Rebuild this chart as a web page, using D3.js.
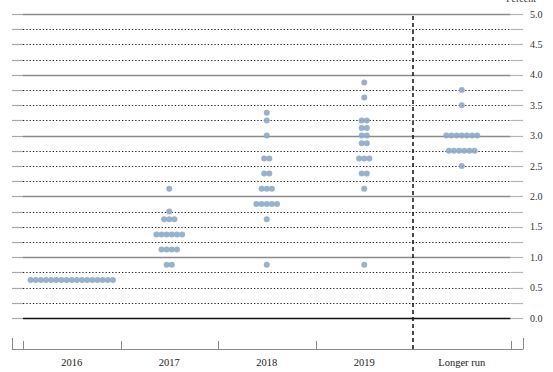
<!DOCTYPE html>
<html>
<head>
<meta charset="utf-8">
<script src="https://cdn.jsdelivr.net/npm/d3@7"></script>
<style>
  html, body { margin: 0; padding: 0; background: #fff; }
  svg { display: block; }
  text { font-family: "Liberation Serif", "Times New Roman", serif; }
</style>
</head>
<body>
<div id="chart"></div>
<script>
// ---- Data ----
const categories = ["2016", "2017", "2018", "2019", "Longer run"];
const yTicks = [0, 0.5, 1, 1.5, 2, 2.5, 3, 3.5, 4, 4.5, 5];

const values2016 = [0.625];
const counts2016 = [17];

const values2017 = [0.875, 1.125, 1.375, 1.625, 1.75, 2.125];
const counts2017 = [2, 4, 6, 3, 1, 1];

const values2018 = [0.875, 1.625, 1.875, 2.125, 2.375, 2.625, 3.0, 3.25, 3.375];
const counts2018 = [1, 1, 5, 3, 2, 2, 1, 1, 1];

const values2019 = [0.875, 2.125, 2.375, 2.625, 2.875, 3.0, 3.125, 3.25, 3.625, 3.875];
const counts2019 = [1, 1, 2, 3, 2, 2, 2, 2, 1, 1];

const valuesLR = [2.5, 2.75, 3.0, 3.5, 3.75];
const countsLR = [1, 6, 7, 1, 1];

const seriesValues = [values2016, values2017, values2018, values2019, valuesLR];
const seriesCounts = [counts2016, counts2017, counts2018, counts2019, countsLR];

// ---- Layout ----
const W = 553, H = 372;
const svg = d3.select("#chart").append("svg").attr("width", W).attr("height", H);

const y = d3.scaleLinear().domain([0, 5]).range([318, 14]);
const x = d3.scaleBand().domain(categories).range([23, 510.5]).padding(0);
const lineLeft = 12, lineRight = 523;
const innerRight = 510.5;

// grid lines (every 0.25)
const gridVals = d3.range(0, 5.001, 0.25);
const g = svg.append("g");

// dots
const dotData = [];
categories.forEach((c, ci) => {
  seriesValues[ci].forEach((v, vi) => {
    const n = seriesCounts[ci][vi];
    for (let k = 0; k < n; k++) {
      dotData.push({ cat: c, v: v, off: (k - (n - 1) / 2) * 5.15 });
    }
  });
});

// end segments
gridVals.forEach(v => {
  const yy = Math.round(y(v)) + 0.5;
  g.append("line").attr("x1", lineLeft).attr("x2", x.range()[0])
    .attr("y1", yy).attr("y2", yy).attr("stroke", "#a8a8a8").attr("stroke-width", 1.2);
  g.append("line").attr("x1", innerRight).attr("x2", lineRight)
    .attr("y1", yy).attr("y2", yy).attr("stroke", "#b4b4b4").attr("stroke-width", 1.2);
});

// middle lines
gridVals.forEach(v => {
  const yy = Math.round(y(v)) + 0.5;
  const isInt = Math.abs(v - Math.round(v)) < 1e-9;
  const ln = g.append("line").attr("x1", x.range()[0]).attr("x2", innerRight)
    .attr("y1", yy).attr("y2", yy);
  if (v === 0) {
    ln.attr("stroke", "#111").attr("stroke-width", 1.3);
  } else if (isInt) {
    ln.attr("stroke", "#8a8a8a").attr("stroke-width", 1.3);
  } else {
    ln.attr("stroke", "#222").attr("stroke-width", 1).attr("stroke-dasharray", "1.3,2");
  }
});

svg.append("g").selectAll("circle").data(dotData).enter().append("circle")
  .attr("cx", d => x(d.cat) + x.bandwidth() / 2 + d.off)
  .attr("cy", d => y(d.v))
  .attr("r", 3)
  .attr("fill", "#8eaac6")
  .attr("fill-opacity", 0.9);

// y labels
svg.append("g").selectAll("text").data(yTicks).enter().append("text")
  .attr("x", 530).attr("y", d => y(d)).attr("dy", "0.35em")
  .attr("font-size", 10).attr("fill", "#333")
  .text(d => d.toFixed(1));

svg.append("text").attr("x", 536).attr("y", 2).attr("text-anchor", "end")
  .attr("font-size", 10).attr("fill", "#333").text("Percent");

// bottom axis
const baseY = 349.5;
svg.append("line").attr("x1", lineLeft).attr("x2", lineRight)
  .attr("y1", baseY).attr("y2", baseY).attr("stroke", "#888").attr("stroke-width", 1);
[lineLeft, lineRight].forEach(xx => {
  svg.append("line").attr("x1", xx + 0.5).attr("x2", xx + 0.5)
    .attr("y1", 338).attr("y2", baseY).attr("stroke", "#888");
});
const edges = categories.map(c => x(c)).concat([innerRight]);
edges.forEach((xx, i) => {
  if (i === 4) return; // dashed separator drawn separately
  svg.append("line").attr("x1", Math.round(xx) + 0.5).attr("x2", Math.round(xx) + 0.5)
    .attr("y1", 341).attr("y2", baseY).attr("stroke", "#888");
});

// dashed separator before "Longer run"
const sepX = x("Longer run");
svg.append("line").attr("x1", sepX).attr("x2", sepX)
  .attr("y1", 16).attr("y2", baseY)
  .attr("stroke", "#111").attr("stroke-width", 1.5).attr("stroke-dasharray", "4,3");

// category labels
svg.append("g").selectAll("text").data(categories).enter().append("text")
  .attr("x", d => x(d) + x.bandwidth() / 2).attr("y", 366)
  .attr("text-anchor", "middle").attr("font-size", 10.5).attr("fill", "#222")
  .text(d => d);
</script>
</body>
</html>
